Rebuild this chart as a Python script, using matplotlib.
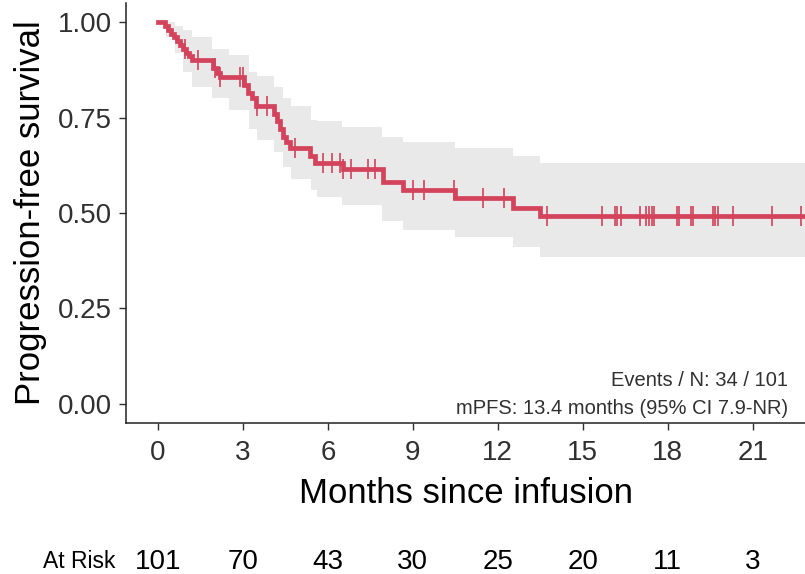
import numpy as np
import matplotlib.pyplot as plt

plt.rcParams['font.family'] = ['Liberation Sans', 'DejaVu Sans']

## Data
# step times (months) and survival after each step
step_t = [0, 0.25, 0.35, 0.46, 0.56, 0.67, 0.78, 0.88, 0.99, 1.09, 1.2,
          1.94, 2.08, 2.19, 3.04, 3.18, 3.32, 3.46, 4.09, 4.2, 4.31, 4.41,
          4.52, 4.66, 5.37, 5.54, 6.53, 7.94, 8.65, 10.48, 12.53, 13.5]
step_s = [1.0, 0.99, 0.98, 0.97, 0.96, 0.95, 0.94, 0.93, 0.92, 0.91, 0.90,
          0.88, 0.866, 0.856, 0.835, 0.815, 0.80, 0.78, 0.76, 0.74, 0.72, 0.70,
          0.685, 0.671, 0.648, 0.632, 0.614, 0.58, 0.559, 0.538, 0.514, 0.491]
last_followup = 23.2

# 95% CI band (step post)
band_t = [0, 0.3, 0.6, 0.9, 1.2, 1.9, 2.5, 3.2, 3.5, 4.1, 4.4, 4.7, 5.4,
          5.6, 6.5, 7.9, 8.65, 10.48, 12.53, 13.5]
band_lo = [1.0, 0.96, 0.92, 0.87, 0.83, 0.80, 0.77, 0.72, 0.69, 0.66, 0.62,
           0.59, 0.56, 0.543, 0.52, 0.48, 0.455, 0.436, 0.41, 0.384]
band_hi = [1.0, 1.0, 0.99, 0.98, 0.96, 0.93, 0.914, 0.87, 0.86, 0.83, 0.80,
           0.78, 0.744, 0.74, 0.726, 0.70, 0.687, 0.67, 0.648, 0.632]

# censoring times
censor_t = [0.95, 1.41, 2.0, 2.19, 2.9, 3.0, 3.49, 3.85, 4.84, 5.82, 6.14,
            6.42, 6.53, 6.81, 7.41, 7.66, 9.0, 9.39, 10.45, 11.47, 12.21,
            13.73, 15.67, 16.13, 16.2, 16.34, 17.01, 17.23, 17.33, 17.44,
            17.51, 18.32, 18.39, 18.81, 18.88, 19.59, 19.66, 19.77, 20.3,
            21.7, 22.7]

risk_t = [0, 3, 6, 9, 12, 15, 18, 21]
risk_n = [101, 70, 43, 30, 25, 20, 11, 3]

line_col = '#D3435C'
text_col = '#303030'

fig = plt.figure(figsize=(8.05, 5.74), dpi=100)
ax = fig.add_axes([126 / 805, 151 / 574, 679 / 805, 420 / 574])

bt = band_t + [last_followup]
ax.fill_between(bt, band_lo + [band_lo[-1]], band_hi + [band_hi[-1]],
                step='post', color='#E9E9E9', lw=0)

st = step_t + [last_followup]
ax.step(st, step_s + [step_s[-1]], where='post', color=line_col, lw=3.4,
        solid_joinstyle='miter')

# censor marks sit on the curve
idx = np.searchsorted(step_t, censor_t, side='right') - 1
censor_s = np.array(step_s)[idx]
ax.plot(censor_t, censor_s, ls='none', marker='|', ms=14, mew=1.2,
        color=line_col)

ax.set_xlim(-1.13, 22.85)
ax.set_ylim(-0.05, 1.05)
ax.set_xticks(risk_t)
ax.set_yticks([0, 0.25, 0.5, 0.75, 1.0])
ax.set_yticklabels(['0.00', '0.25', '0.50', '0.75', '1.00'])
ax.tick_params(labelsize=20, colors=text_col, length=5, width=1,
               labelcolor=text_col)
ax.tick_params(axis='x', pad=7)
ax.tick_params(axis='y', pad=5)
for side in ['top', 'right']:
  ax.spines[side].set_visible(False)
for side in ['left', 'bottom']:
  ax.spines[side].set_color('#222222')
  ax.spines[side].set_linewidth(1.1)

ax.set_xlabel('Months since infusion', fontsize=25, color='black', labelpad=8)
ax.set_ylabel('Progression-free survival', fontsize=25, color='black',
              labelpad=8)

ax.text(0.975, 0.088, 'Events / N: 34 / 101', transform=ax.transAxes,
        ha='right', va='baseline', fontsize=14.5, color=text_col)
ax.text(0.975, 0.022, 'mPFS: 13.4 months (95% CI 7.9-NR)',
        transform=ax.transAxes, ha='right', va='baseline', fontsize=14.5,
        color=text_col)

# at-risk table
trans = ax.get_xaxis_transform()
risk_y = -(562 - 423) / 420
for t, n in zip(risk_t, risk_n):
  ax.text(t, risk_y, str(n), transform=trans, ha='center', va='center',
          fontsize=20, color='black', clip_on=False)
ax.text(-1.5, risk_y, 'At Risk', transform=trans, ha='right', va='center',
        fontsize=16.5, color='black', clip_on=False)

fig.savefig('out.png', dpi=100)
